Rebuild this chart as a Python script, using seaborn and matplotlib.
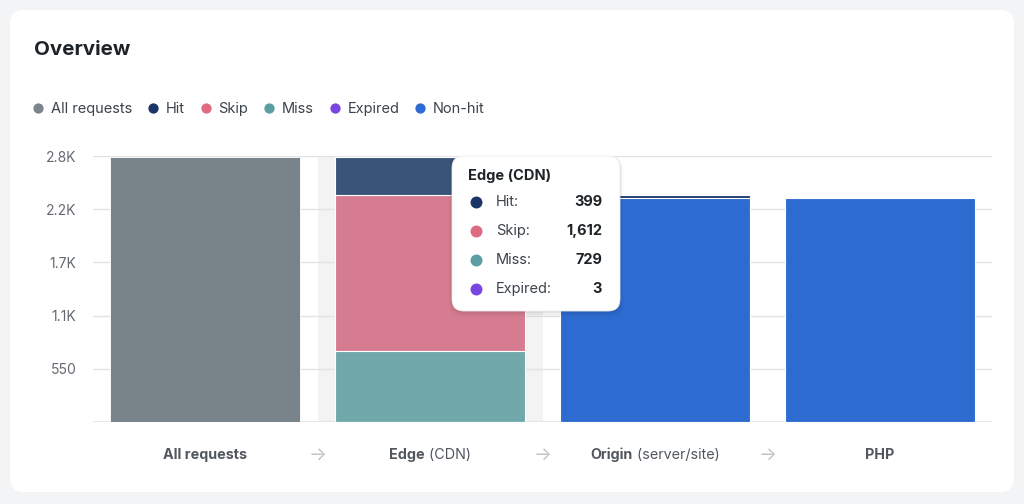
import matplotlib
matplotlib.use("Agg")
import matplotlib.pyplot as plt
import seaborn as sns
import pandas as pd
from matplotlib.patches import FancyBboxPatch
from matplotlib.lines import Line2D
from matplotlib.transforms import IdentityTransform

# ---------------- data ----------------
stages = ["All requests", "Edge", "Origin", "PHP"]
stage_suffix = ["", " (CDN)", " (server/site)", ""]
series_names = ["All requests", "Hit", "Skip", "Miss", "Expired", "Non-hit"]
all_requests = [2743, 0, 0, 0]
hit = [0, 399, 26, 0]
skip = [0, 1612, 0, 0]
miss = [0, 729, 0, 0]
expired = [0, 3, 0, 0]
non_hit = [0, 0, 2318, 2318]
y_ticks = [550, 1100, 1650, 2200, 2750]
y_tick_labels = ["550", "1.1K", "1.7K", "2.2K", "2.8K"]
tooltip_title = "Edge (CDN)"
tooltip_labels = ["Hit:", "Skip:", "Miss:", "Expired:"]
tooltip_values = ["399", "1,612", "729", "3"]

# ---------------- style ----------------
legend_colors = {"All requests": "#7a868b", "Hit": "#1b3566", "Skip": "#df6b83",
                 "Miss": "#5b9fa3", "Expired": "#7a45e0", "Non-hit": "#2e6bd3"}
bar_colors = {"All requests": "#78848a", "Hit": "#3a5479", "Skip": "#d67c90",
              "Miss": "#70a8ac", "Expired": "#7a45e0", "Non-hit": "#2d6bd0"}
origin_hit_color = "#1e3d6e"

W, H = 1024, 504
sns.set_theme(style="white")
plt.rcParams["font.family"] = ["Inter", "DejaVu Sans"]

fig = plt.figure(figsize=(W / 100, H / 100), dpi=100)
fig.patch.set_facecolor("#f3f4f6")
ID = IdentityTransform()

def P(x, y):
    return x, H - y

# card
card = FancyBboxPatch((10, H - 492), 1004, 482, boxstyle="round,pad=0,rounding_size=14",
                      transform=ID, facecolor="white", edgecolor="none", zorder=-5)
fig.add_artist(card)

ax = fig.add_axes([93 / W, (H - 422) / H, (992 - 93) / W, (422 - 156) / H])
ax.patch.set_alpha(0)

# stacked bars (drawn top-down as cumulative heights)
layers = [("Non-hit", non_hit), ("Expired", expired), ("Miss", miss), ("Skip", skip), ("Hit", hit)]
cum = [0] * len(stages)
tops = []
for name, vals in layers:
    cum = [c + v for c, v in zip(cum, vals)]
    tops.append((name, vals, list(cum)))

bar_w = 0.845
df_all = pd.DataFrame({"stage": stages, "value": all_requests})
df_all = df_all[df_all.value > 0]
sns.barplot(data=df_all, x="stage", y="value", order=stages, color=bar_colors["All requests"],
            saturation=1, width=bar_w, errorbar=None, ax=ax, edgecolor="white", linewidth=0.6, zorder=2)

for name, vals, c in reversed(tops):
    d = pd.DataFrame({"stage": stages, "value": c, "own": vals})
    d = d[d.own > 0]
    for st in d.stage:
        col = bar_colors[name]
        if name == "Hit" and st == "Origin":
            col = origin_hit_color
        sns.barplot(data=d[d.stage == st], x="stage", y="value", order=stages, color=col,
                    saturation=1, width=bar_w, errorbar=None, ax=ax, edgecolor="white",
                    linewidth=0.8, zorder=2)

ax.set_xlim(-0.5, 3.5)
ax.set_ylim(0, 2750)
ax.axvspan(0.5, 1.5, color="#f3f3f3", zorder=0.2, lw=0)
ax.set_yticks(y_ticks, y_tick_labels)
ax.yaxis.grid(True, color="#e3e3e3", lw=1, zorder=0.5)
ax.axhline(0, color="#e3e3e3", lw=1.2, zorder=0.5)
ax.set_axisbelow(True)
ax.tick_params(axis="y", length=0, pad=12, labelsize=10, labelcolor="#646970")
ax.set_xticks(range(len(stages)), [""] * len(stages))
ax.tick_params(axis="x", length=0)
ax.set_xlabel("")
ax.set_ylabel("")
for s in ax.spines.values():
    s.set_visible(False)

# title
fig.text(*P(34, 50), "Overview", transform=ID, fontsize=14.8, fontweight="bold",
         color="#1d2327", va="center", ha="left")

# legend
handles = [Line2D([0], [0], marker="o", linestyle="none", markersize=7.4,
                  markerfacecolor=legend_colors[n], markeredgecolor="none") for n in series_names]
leg = fig.legend(handles, series_names, loc="center left",
                 bbox_to_anchor=(33 / W, 1 - 109 / H), ncol=6, frameon=False,
                 fontsize=10.5, handlelength=0.7, handletextpad=0.53, columnspacing=1.08,
                 borderpad=0, borderaxespad=0)
for t in leg.get_texts():
    t.set_color("#3c434a")

# x category labels (bold name + regular suffix)
fig.canvas.draw()
r = fig.canvas.get_renderer()
ylab = H - 455
for i, (st, suf) in enumerate(zip(stages, stage_suffix)):
    xc = ax.transData.transform((i, 0))[0]
    t1 = fig.text(0, ylab, st, transform=ID, fontsize=10.3, fontweight="bold",
                  color="#50575e", va="center", ha="left")
    w1 = t1.get_window_extent(r).width
    w2 = 0
    t2 = None
    if suf:
        t2 = fig.text(0, ylab, suf, transform=ID, fontsize=10.3, color="#50575e",
                      va="center", ha="left")
        w2 = t2.get_window_extent(r).width
    x0 = xc - (w1 + w2) / 2
    t1.set_x(x0)
    if t2 is not None:
        t2.set_x(x0 + w1)
for i in range(len(stages) - 1):
    xa = ax.transData.transform((i + 0.5, 0))[0]
    fig.text(xa, ylab, "→", transform=ID, fontsize=13.5, color="#c3c4c7",
             va="center", ha="center", family=["Inter", "DejaVu Sans"])

# tooltip
tx, ty, tw, th = 452, 156, 168, 155
for k, a in [(6, 0.025), (4, 0.035), (2, 0.05)]:
    sh = FancyBboxPatch((tx - k / 2, H - ty - th - k), tw + k, th + k,
                        boxstyle="round,pad=0,rounding_size=14", transform=ID,
                        facecolor="black", edgecolor="none", alpha=a, zorder=8)
    fig.add_artist(sh)
tip = FancyBboxPatch((tx, H - ty - th), tw, th, boxstyle="round,pad=0,rounding_size=12",
                     transform=ID, facecolor="white", edgecolor="#ececec", lw=0.6, zorder=9)
fig.add_artist(tip)
fig.text(*P(468, 176), tooltip_title, transform=ID, fontsize=10.5, fontweight="bold",
         color="#1d2327", va="center", ha="left", zorder=10)
tip_colors = [legend_colors["Hit"], legend_colors["Skip"], legend_colors["Miss"], legend_colors["Expired"]]
row_y = [202, 231, 260, 289]
for lab, val, col, yy in zip(tooltip_labels, tooltip_values, tip_colors, row_y):
    fig.add_artist(Line2D([476], [H - yy], marker="o", markersize=8.6, markerfacecolor=col,
                          markeredgecolor="none", transform=ID, zorder=10))
    fig.text(*P(496, yy), lab, transform=ID, fontsize=10.5, color="#3c434a",
             va="center", ha="left", zorder=10)
    fig.text(*P(602, yy), val, transform=ID, fontsize=10.5, fontweight="bold",
             color="#1d2327", va="center", ha="right", zorder=10)

fig.savefig("out.png", dpi=100, facecolor=fig.get_facecolor())
